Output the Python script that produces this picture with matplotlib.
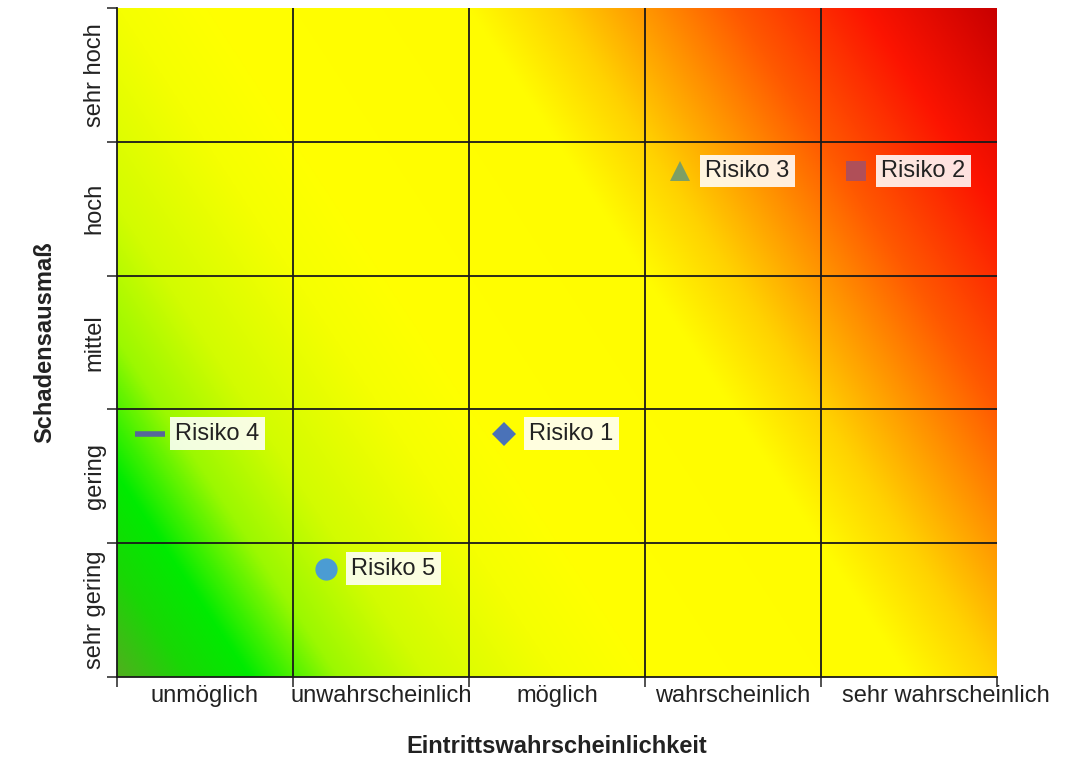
import numpy as np
import matplotlib
matplotlib.use("Agg")
import matplotlib.pyplot as plt
from matplotlib.colors import LinearSegmentedColormap
from matplotlib.transforms import ScaledTranslation

plt.rcParams['font.family'] = ['Liberation Sans', 'DejaVu Sans']

# ---- data ----
x_categories = ["unmöglich", "unwahrscheinlich", "möglich", "wahrscheinlich", "sehr wahrscheinlich"]
y_categories = ["sehr gering", "gering", "mittel", "hoch", "sehr hoch"]
x_title = "Eintrittswahrscheinlichkeit"
y_title = "Schadensausmaß"

risk_names = ["Risiko 1", "Risiko 2", "Risiko 3", "Risiko 4", "Risiko 5"]
risk_prob = [2.2, 4.2, 3.2, 0.19, 1.19]      # position on Eintrittswahrscheinlichkeit axis
risk_impact = [1.82, 3.78, 3.78, 1.82, 0.81]  # position on Schadensausmaß axis
risk_markers = ["D", "s", "^", "_", "o"]
risk_colors = ["#4a72b8", "#b04f58", "#7e9f63", "#56689a", "#4b9cd3"]
risk_sizes = [12, 14, 15, 22, 16]

# ---- figure ----
fig = plt.figure(figsize=(10.76, 7.62), dpi=100)
ax = fig.add_axes([0.1087, 0.1115, 0.8178, 0.878])

n = len(x_categories)
# background gradient (green bottom-left -> yellow -> red top-right)
stops = [
    (0.0, (80, 175, 30)),
    (0.8, (25, 215, 5)),
    (1.5, (0, 235, 0)),
    (2.5, (155, 248, 0)),
    (3.5, (210, 252, 0)),
    (5.0, (245, 255, 0)),
    (6.0, (255, 255, 0)),
    (9.0, (255, 252, 0)),
    (10.0, (255, 210, 0)),
    (11.0, (255, 150, 0)),
    (12.0, (255, 90, 0)),
    (13.5, (252, 20, 0)),
    (15.0, (200, 0, 0)),
]
cmap = LinearSegmentedColormap.from_list(
    "risk", [(s / 15.0, tuple(c / 255 for c in col)) for s, col in stops], N=1024)
gx, gy = np.meshgrid(np.linspace(0, n, 700), np.linspace(0, n, 700))
score = 2 * gx + gy
ax.imshow(score, cmap=cmap, vmin=0, vmax=15, origin="lower",
          extent=[0, n, 0, n], aspect="auto", interpolation="bilinear", zorder=0)

# grid lines
for k in range(1, n):
    ax.axvline(k, color="#1a1a1a", lw=1.3, zorder=1)
    ax.axhline(k, color="#1a1a1a", lw=1.3, zorder=1)

ax.set_xlim(0, n)
ax.set_ylim(0, n)

for side in ["top", "right"]:
    ax.spines[side].set_visible(False)
for side in ["left", "bottom"]:
    ax.spines[side].set_color("#1a1a1a")
    ax.spines[side].set_linewidth(1.3)

ax.set_xticks(np.arange(n + 1))
ax.set_yticks(np.arange(n + 1))
ax.set_xticklabels([])
ax.set_yticklabels([])
ax.tick_params(axis="both", which="major", length=7, width=1.2, color="#333333", direction="out")
ax.set_xticks(np.arange(n) + 0.5, minor=True)
ax.set_yticks(np.arange(n) + 0.5, minor=True)
ax.set_xticklabels(x_categories, minor=True, fontsize=17, color="#222222")
ax.set_yticklabels(y_categories, minor=True, fontsize=17, color="#222222",
                   rotation=90, va="center")
ax.tick_params(axis="both", which="minor", length=0)
ax.tick_params(axis="x", which="minor", pad=6)
ax.tick_params(axis="y", which="minor", pad=8)

# the last x label sits shifted to the right in the original
last = ax.get_xticklabels(minor=True)[-1]
last.set_transform(last.get_transform() + ScaledTranslation(0.37, 0, fig.dpi_scale_trans))

ax.set_xlabel(x_title, fontsize=17, fontweight="bold", color="#222222", labelpad=20)
ax.set_ylabel(y_title, fontsize=17, fontweight="bold", color="#222222", labelpad=20)

# risks
for name, px, py, m, c, s in zip(risk_names, risk_prob, risk_impact, risk_markers, risk_colors, risk_sizes):
    if m == "_":
        ax.plot(px, py, marker=m, color=c, markersize=s, markeredgewidth=4, zorder=3, linestyle="none")
    else:
        ax.plot(px, py, marker=m, color=c, markersize=s, markeredgewidth=0, zorder=3, linestyle="none")
    ax.annotate(name, (px, py), xytext=(18, 0), textcoords="offset points",
                va="center", ha="left", fontsize=17, color="#222222", zorder=4,
                bbox=dict(boxstyle="square,pad=0.22", facecolor="white", alpha=0.88,
                          edgecolor="none"))

fig.savefig("out.png", dpi=100)
